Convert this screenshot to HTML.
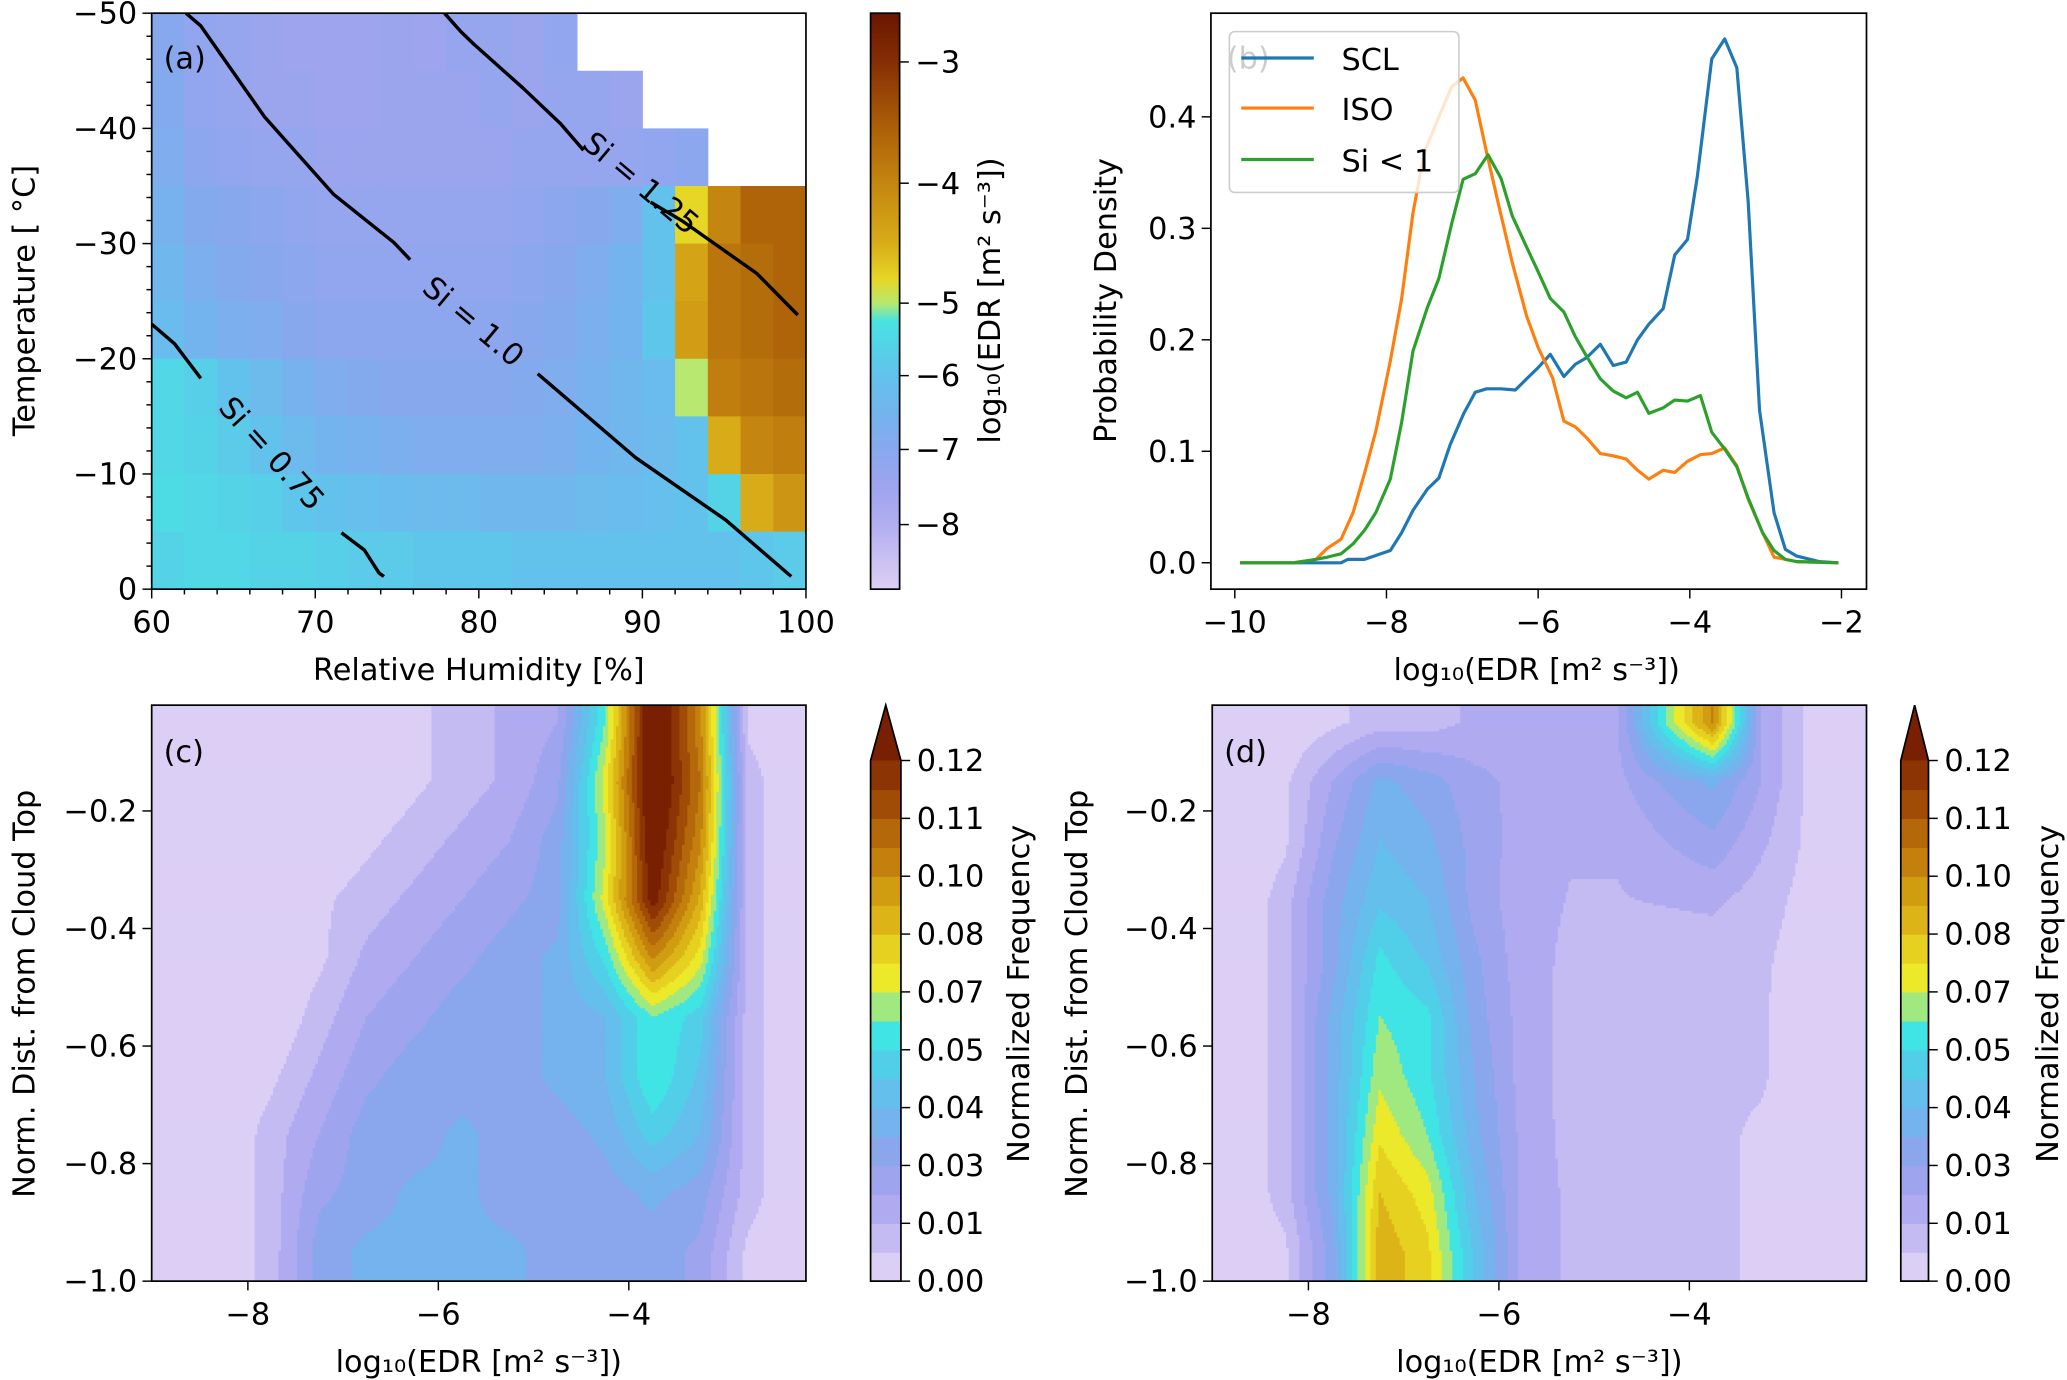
<!DOCTYPE html>
<html><head><meta charset="utf-8"><style>
html,body{margin:0;padding:0;background:#fff;}
svg{display:block;font-family:"DejaVu Sans","Liberation Sans",sans-serif;}
</style></head><body>
<svg id="fig" xmlns="http://www.w3.org/2000/svg" width="2067" height="1380" viewBox="0 0 1567 1047" preserveAspectRatio="none">
<rect x="0" y="0" width="1567" height="1047" fill="#fff"/>
<defs>
<clipPath id="clipA"><rect x="115" y="10" width="496" height="437"/></clipPath>
<clipPath id="clipB"><rect x="918" y="10" width="497" height="437"/></clipPath>
<clipPath id="clipC"><rect x="115" y="535" width="496" height="437"/></clipPath>
<clipPath id="clipD"><rect x="919" y="535" width="496" height="437"/></clipPath>
</defs>
<g id="root"></g>
</svg>
<script>
// ---------------- DATA ----------------
const rhCenters = [61,63,65,67,69,71,73,75,77,79,81,83,85,87,89,91,93,95,97,99];
const tCenters = [-47.5,-42.5,-37.5,-32.5,-27.5,-22.5,-17.5,-12.5,-7.5,-2.5];
const edrA = [
[-7.0,-7.2,-7.3,-7.4,-7.5,-7.5,-7.5,-7.4,-7.5,-7.3,-7.3,-7.4,-7.2,null,null,null,null,null,null,null],
[-6.9,-7.2,-7.3,-7.4,-7.4,-7.5,-7.5,-7.4,-7.4,-7.4,-7.3,-7.4,-7.3,-7.3,-7.4,null,null,null,null,null],
[-6.8,-7.1,-7.2,-7.3,-7.3,-7.4,-7.4,-7.4,-7.4,-7.4,-7.4,-7.3,-7.3,-7.3,-7.3,-7.2,-7.1,null,null,null],
[-6.6,-6.9,-7.0,-7.1,-7.2,-7.3,-7.3,-7.3,-7.3,-7.3,-7.3,-7.2,-7.1,-7.0,-6.8,-6.0,-4.8,-4.0,-3.6,-3.6],
[-6.4,-6.7,-6.9,-7.0,-7.1,-7.2,-7.2,-7.2,-7.2,-7.2,-7.2,-7.1,-7.0,-6.8,-6.5,-6.0,-4.4,-3.8,-3.7,-3.6],
[-6.2,-6.5,-6.7,-6.8,-7.0,-7.1,-7.1,-7.1,-7.1,-7.1,-7.1,-7.0,-6.9,-6.7,-6.5,-5.9,-4.3,-3.8,-3.7,-3.6],
[-5.5,-5.7,-6.0,-6.3,-6.6,-6.8,-6.9,-7.0,-7.0,-7.0,-7.0,-6.9,-6.8,-6.6,-6.4,-6.2,-5.0,-3.9,-3.8,-3.7],
[-5.5,-5.6,-5.8,-6.0,-6.3,-6.5,-6.6,-6.7,-6.8,-6.8,-6.8,-6.8,-6.7,-6.5,-6.4,-6.3,-6.0,-4.5,-4.0,-3.9],
[-5.4,-5.5,-5.6,-5.7,-5.9,-6.0,-6.1,-6.2,-6.3,-6.3,-6.4,-6.4,-6.4,-6.3,-6.2,-6.1,-6.0,-5.6,-4.5,-4.2],
[-5.6,-5.5,-5.5,-5.6,-5.6,-5.7,-5.8,-5.8,-5.9,-5.9,-5.9,-6.0,-6.0,-6.0,-6.0,-6.0,-6.0,-6.0,-5.9,-5.8]
];
const si100aRH = [62.1,63.0,66.9,71.1,74.8,75.8];
const si100aT = [-50,-48.9,-41.0,-34.3,-30.1,-28.6];
const si100bRH = [83.6,89.6,95.1,99.1];
const si100bT = [-18.7,-11.4,-6.0,-1.1];
const si125aRH = [77.9,78.9,79.7,82.7,85.0,86.4];
const si125aT = [-50,-48.4,-47.3,-43.5,-40.4,-38.1];
const si125bRH = [90.5,92.4,94.7,97.0,99.5];
const si125bT = [-33.6,-32.0,-29.7,-27.4,-23.8];
const si075aRH = [60,61.4,63.0];
const si075aT = [-23.0,-21.3,-18.3];
const si075bRH = [71.6,73.0,73.9,74.2];
const si075bT = [-4.9,-3.4,-1.4,-1.1];
const aXTicks = [60,70,80,90,100];
const aYTicks = [-50,-40,-30,-20,-10,0];
const aCbTicks = [-3,-4,-5,-6,-7,-8];

const sclX = [-9.93,-8.78,-8.6,-8.51,-8.29,-7.95,-7.80,-7.65,-7.46,-7.31,-7.16,-6.98,-6.83,-6.68,-6.49,-6.30,-6.15,-6.00,-5.84,-5.66,-5.51,-5.36,-5.18,-5.01,-4.84,-4.69,-4.54,-4.35,-4.20,-4.03,-3.90,-3.71,-3.54,-3.38,-3.23,-3.08,-2.89,-2.74,-2.59,-2.29,-2.04];
const sclY = [0,0,0,0.003,0.003,0.011,0.027,0.047,0.066,0.076,0.106,0.134,0.153,0.156,0.156,0.155,0.165,0.175,0.187,0.167,0.178,0.184,0.196,0.177,0.180,0.200,0.214,0.228,0.276,0.290,0.347,0.452,0.470,0.444,0.324,0.137,0.045,0.012,0.006,0.001,0];
const isoX = [-9.93,-9.23,-8.93,-8.78,-8.6,-8.44,-8.29,-8.14,-7.95,-7.80,-7.65,-7.50,-7.31,-7.14,-6.99,-6.83,-6.68,-6.49,-6.34,-6.15,-6.00,-5.81,-5.66,-5.51,-5.36,-5.18,-5.01,-4.84,-4.69,-4.54,-4.35,-4.20,-4.03,-3.86,-3.71,-3.54,-3.38,-3.23,-3.04,-2.89,-2.74,-2.59,-2.04];
const isoY = [0,0,0.003,0.013,0.021,0.045,0.080,0.118,0.181,0.237,0.314,0.368,0.400,0.427,0.435,0.415,0.368,0.312,0.269,0.221,0.193,0.166,0.127,0.122,0.112,0.098,0.096,0.093,0.083,0.075,0.083,0.081,0.091,0.097,0.098,0.103,0.087,0.057,0.027,0.005,0.003,0.001,0];
const siX = [-9.93,-9.23,-8.93,-8.78,-8.6,-8.44,-8.29,-8.14,-7.95,-7.80,-7.65,-7.46,-7.31,-7.14,-6.99,-6.83,-6.66,-6.49,-6.34,-6.15,-6.00,-5.84,-5.66,-5.51,-5.36,-5.18,-5.01,-4.84,-4.69,-4.54,-4.35,-4.20,-4.03,-3.86,-3.71,-3.54,-3.38,-3.23,-3.04,-2.89,-2.74,-2.59,-2.04];
const siY = [0,0,0.003,0.005,0.008,0.017,0.029,0.045,0.075,0.126,0.190,0.229,0.255,0.304,0.344,0.349,0.366,0.345,0.311,0.283,0.261,0.237,0.225,0.203,0.185,0.165,0.154,0.148,0.153,0.134,0.139,0.146,0.145,0.150,0.117,0.102,0.086,0.058,0.027,0.011,0.003,0.001,0];
const bXTicks = [-10,-8,-6,-4,-2];
const bYTicks = [0.0,0.1,0.2,0.3,0.4];

const cdXCenters = [-8.75,-8.25,-7.75,-7.25,-6.75,-6.25,-5.75,-5.25,-4.75,-4.25,-3.75,-3.25,-2.75,-2.25];
const cdYCenters = [-0.05,-0.15,-0.25,-0.35,-0.45,-0.55,-0.65,-0.75,-0.85,-0.95];
const freqC = [
[0,0,0,0,0,0.005,0.01,0.015,0.02,0.06,0.135,0.095,0.005,0],
[0,0,0,0,0,0.005,0.01,0.015,0.025,0.07,0.135,0.10,0.01,0],
[0,0,0,0,0.005,0.01,0.015,0.02,0.03,0.065,0.13,0.095,0.01,0],
[0,0,0,0.005,0.01,0.015,0.02,0.025,0.03,0.07,0.125,0.085,0.01,0],
[0,0,0,0.005,0.015,0.02,0.025,0.03,0.035,0.055,0.095,0.07,0.01,0],
[0,0,0,0.01,0.02,0.025,0.03,0.03,0.035,0.04,0.06,0.05,0.01,0],
[0,0,0.005,0.015,0.025,0.03,0.03,0.03,0.035,0.04,0.06,0.045,0.01,0],
[0,0,0.01,0.02,0.03,0.03,0.035,0.03,0.03,0.035,0.05,0.04,0.01,0],
[0,0,0.01,0.025,0.03,0.035,0.035,0.03,0.03,0.03,0.035,0.03,0.01,0],
[0,0,0.01,0.03,0.035,0.035,0.035,0.035,0.03,0.03,0.03,0.025,0.005,0]
];
const freqD = [
[0,0,0.005,0.01,0.01,0.015,0.018,0.018,0.02,0.06,0.095,0.02,0.005,0],
[0,0.005,0.02,0.035,0.03,0.022,0.018,0.016,0.018,0.028,0.035,0.02,0.005,0],
[0,0.005,0.025,0.04,0.035,0.024,0.017,0.014,0.014,0.02,0.025,0.015,0.005,0],
[0,0.01,0.03,0.045,0.04,0.024,0.016,0.013,0.013,0.014,0.015,0.01,0.004,0],
[0,0.01,0.03,0.055,0.045,0.028,0.016,0.012,0.009,0.009,0.009,0.008,0.003,0],
[0,0.01,0.035,0.06,0.055,0.03,0.017,0.011,0.009,0.008,0.009,0.008,0,0],
[0,0.01,0.035,0.065,0.055,0.033,0.017,0.011,0.009,0.008,0.009,0.008,0,0],
[0,0.01,0.035,0.072,0.06,0.035,0.018,0.011,0.009,0.008,0.009,0.005,0,0],
[0,0.01,0.035,0.08,0.07,0.04,0.018,0.012,0.009,0.008,0.009,0.005,0,0],
[0,0.005,0.03,0.085,0.075,0.045,0.018,0.012,0.009,0.009,0.009,0.005,0,0]
];
const cdXTicks = [-8,-6,-4];
const cdYTicks = [-0.2,-0.4,-0.6,-0.8,-1.0];
const cbFreqLabels = ['0.00','0.01','0.03','0.04','0.05','0.07','0.08','0.10','0.11','0.12'];

// ---------------- HELPERS ----------------
const NS = 'http://www.w3.org/2000/svg';
const root = document.getElementById('root');
function mk(tag, attrs, parent){
  const e = document.createElementNS(NS, tag);
  for (const k in attrs) e.setAttribute(k, attrs[k]);
  (parent || root).appendChild(e);
  return e;
}
function lin(d0,d1,r0,r1){ return v => r0 + (v-d0)/(d1-d0)*(r1-r0); }
function hex(c){ return [parseInt(c.slice(1,3),16),parseInt(c.slice(3,5),16),parseInt(c.slice(5,7),16)]; }
const FS = 23;

const aStops = [[-2.6,'#6a1600'],[-3,'#862e04'],[-3.5,'#aa5c08'],[-4,'#c48610'],[-4.5,'#d8ac18'],[-4.8,'#e6d626'],[-5,'#b8e870'],[-5.25,'#48e2e2'],[-6,'#62c2ec'],[-6.5,'#74b4ee'],[-7,'#88a8ee'],[-7.5,'#9ea4ee'],[-8,'#b2aef0'],[-8.9,'#ddd0f4']];
function colA(v){
  if (v >= aStops[0][0]) return aStops[0][1];
  for (let i=0;i<aStops.length-1;i++){
    const a=aStops[i], b=aStops[i+1];
    if (v <= a[0] && v >= b[0]){
      const t=(a[0]-v)/(a[0]-b[0]); const ca=hex(a[1]), cb=hex(b[1]);
      return 'rgb('+ca.map((x,j)=>Math.round(x+(cb[j]-x)*t)).join(',')+')';
    }
  }
  return aStops[aStops.length-1][1];
}
const bandCols = ['#dccff5','#c4bbf2','#b0abf0','#9ea4ee','#8aa7ee','#74b3ee','#64bfec','#52cfe8','#40e4e4','#a0e880','#ece82a','#e6d020','#dcb418','#d09c10','#c4800c','#b4680a','#a04c06','#8c3404'];
const extCol = '#7a2002';
function colF(v){ const k=Math.floor(v/(0.12/18)); return k>=18?extCol:bandCols[Math.max(0,k)]; }

function axisFrame(x0,y0,x1,y1,name){
  const r = mk('rect',{x:x0,y:y0,width:x1-x0,height:y1-y0,fill:'none',stroke:'#000','stroke-width':1.3});
  
  
}
function txt(s,x,y,opts,name){
  const t = mk('text',Object.assign({x:x,y:y,'font-size':FS,fill:'#000'},opts||{}));
  t.textContent = s;
  
  
  return t;
}
function fmtNeg(v,dec){ const s = Math.abs(v).toFixed(dec); return (v<0?'\u2212':'')+s; }

// ---------------- PANEL A ----------------
const AX0=115, AX1=611, AY0=10, AY1=447;
const sxA = lin(60,100,AX0,AX1), syA = lin(-50,0,AY0,AY1);
const gA = mk('g',{'clip-path':'url(#clipA)'});


edrA.forEach((row,i)=>row.forEach((v,j)=>{
  if (v===null) return;
  const x0=sxA(rhCenters[j]-1), x1=sxA(rhCenters[j]+1), y0=syA(tCenters[i]-2.5), y1=syA(tCenters[i]+2.5);
  const r = mk('rect',{x:x0,y:y0,width:x1-x0+0.4,height:y1-y0+0.4,fill:colA(v)},gA);
  
  
}));
function siLine(xs,ts,name){
  const p = mk('polyline',{points:xs.map((x,i)=>sxA(x)+','+syA(ts[i])).join(' '),fill:'none',stroke:'#000','stroke-width':2.6,'stroke-linejoin':'round'},gA);
  
  
}
siLine(si100aRH,si100aT,'si-1.0-contour');
siLine(si100bRH,si100bT,'si-1.0-contour');
siLine(si125aRH,si125aT,'si-1.25-contour');
siLine(si125bRH,si125bT,'si-1.25-contour');
siLine(si075aRH,si075aT,'si-0.75-contour');
siLine(si075bRH,si075bT,'si-0.75-contour');
txt('Si = 1.0',358,245,{'text-anchor':'middle','dominant-baseline':'middle',transform:'rotate(40 358 245)'},'si-1.0-label');
txt('Si = 1.25',485,140,{'text-anchor':'middle','dominant-baseline':'middle',transform:'rotate(40 485 140)'},'si-1.25-label');
txt('Si = 0.75',205,345,{'text-anchor':'middle','dominant-baseline':'middle',transform:'rotate(48 205 345)'},'si-0.75-label');
txt('(a)',124,52,{},'panel-a-label');
axisFrame(AX0,AY0,AX1,AY1,'panel-a-frame');
for (let v=60; v<=100; v+=2){
  const maj = aXTicks.includes(v);
  const l = mk('line',{x1:sxA(v),x2:sxA(v),y1:AY1,y2:AY1+(maj?7:4),stroke:'#000','stroke-width':1.1});
  
  
}
aXTicks.forEach(v=>txt(String(v),sxA(v),AY1+33,{'text-anchor':'middle'},'x-tick-label'));
for (let v=-50; v<=0; v+=2){
  const maj = aYTicks.includes(v);
  const l = mk('line',{x1:AX0,x2:AX0-(maj?7:4),y1:syA(v),y2:syA(v),stroke:'#000','stroke-width':1.1});
  
  
}
aYTicks.forEach(v=>txt(fmtNeg(v,0),AX0-11,syA(v)+8,{'text-anchor':'end'},'y-tick-label'));
txt('Relative Humidity [%]',363,516,{'text-anchor':'middle'},'x-axis-title');
txt('Temperature [ \u00B0C]',26,228,{'text-anchor':'middle',transform:'rotate(-90 26 228)'},'y-axis-title');
const CBX0=660, CBX1=682;
const aCbV = [-2.6,-3,-4,-5,-6,-7,-8,-8.9];
const aCbY = [10,47,139,230,285,341,398,447];
function cbYa(v){ for(let i=0;i<aCbV.length-1;i++){ if(v<=aCbV[i]&&v>=aCbV[i+1]) return aCbY[i]+(aCbV[i]-v)/(aCbV[i]-aCbV[i+1])*(aCbY[i+1]-aCbY[i]); } return v>aCbV[0]?aCbY[0]:aCbY[aCbY.length-1]; }
function cbValA(y){ for(let i=0;i<aCbY.length-1;i++){ if(y>=aCbY[i]&&y<=aCbY[i+1]) return aCbV[i]+(y-aCbY[i])/(aCbY[i+1]-aCbY[i])*(aCbV[i+1]-aCbV[i]); } return -8.9; }
const gCbA = mk('g',{});


for (let y=10; y<447; y+=1){
  const r = mk('rect',{x:CBX0,y:y,width:CBX1-CBX0,height:1.3,fill:colA(cbValA(y+0.5))},gCbA);
  
  
}
axisFrame(CBX0,10,CBX1,447,'colorbar-a-frame');
aCbTicks.forEach(v=>{
  const l = mk('line',{x1:CBX1,x2:CBX1+7,y1:cbYa(v),y2:cbYa(v),stroke:'#000','stroke-width':1.1});
  
  
  txt(fmtNeg(v,0),CBX1+12,cbYa(v)+8,{},'colorbar-tick-label');
});
txt('log\u2081\u2080(EDR [m\u00B2 s\u207B\u00B3])',758,228,{'text-anchor':'middle',transform:'rotate(-90 758 228)'},'colorbar-a-title');

// ---------------- PANEL B ----------------
const BX0=918, BX1=1415, BY0=10, BY1=447;
const sxB = lin(-10.315,-1.67,BX0,BX1), syB = lin(-0.0237,0.493,BY1,BY0);
const gB = mk('g',{'clip-path':'url(#clipB)'});


function series(xs,ys,col,name){
  const p = mk('polyline',{points:xs.map((x,i)=>sxB(x).toFixed(1)+','+syB(ys[i]).toFixed(1)).join(' '),fill:'none',stroke:col,'stroke-width':2.4,'stroke-linejoin':'round'},gB);
  
  
}
series(sclX,sclY,'#1f77b4','scl-line');
series(isoX,isoY,'#ff7f0e','iso-line');
series(siX,siY,'#2ca02c','si-below-1-line');
txt('(b)',930,52,{},'panel-b-label');
axisFrame(BX0,BY0,BX1,BY1,'panel-b-frame');
bXTicks.forEach(v=>{
  const l = mk('line',{x1:sxB(v),x2:sxB(v),y1:BY1,y2:BY1+7,stroke:'#000','stroke-width':1.1});
  
  
  txt(fmtNeg(v,0),sxB(v),BY1+33,{'text-anchor':'middle'},'x-tick-label');
});
bYTicks.forEach(v=>{
  const l = mk('line',{x1:BX0,x2:BX0-7,y1:syB(v),y2:syB(v),stroke:'#000','stroke-width':1.1});
  
  
  txt(v.toFixed(1),BX0-11,syB(v)+8,{'text-anchor':'end'},'y-tick-label');
});
txt('log\u2081\u2080(EDR [m\u00B2 s\u207B\u00B3])',1165,516,{'text-anchor':'middle'},'x-axis-title');
txt('Probability Density',846,228,{'text-anchor':'middle',transform:'rotate(-90 846 228)'},'y-axis-title');
const lg = mk('g',{});


const lbox = mk('rect',{x:932,y:24,width:174,height:122,rx:4,fill:'#fff','fill-opacity':0.8,stroke:'#ccc','stroke-width':1.2},lg);


const legNames = ['SCL','ISO','Si < 1'];
const legCols = ['#1f77b4','#ff7f0e','#2ca02c'];
const legYs = [44,82,121];
legNames.forEach((n,i)=>{
  const l = mk('line',{x1:941,x2:996,y1:legYs[i],y2:legYs[i],stroke:legCols[i],'stroke-width':2.4},lg);
  
  
  txt(n,1017,legYs[i]+9,{},'legend-entry-label');
});

// ---------------- PANELS C, D ----------------
const CY0=535, CY1=972;
const syCD = lin(-0.02,-1.0,CY0,CY1);
function interp(mat,x,y){
  let fj=(x-cdXCenters[0])/0.5, fi=(cdYCenters[0]-y)/0.1;
  fj=Math.max(0,Math.min(cdXCenters.length-1,fj)); fi=Math.max(0,Math.min(cdYCenters.length-1,fi));
  const j0=Math.min(Math.floor(fj),cdXCenters.length-2), i0=Math.min(Math.floor(fi),cdYCenters.length-2);
  const tj=fj-j0, ti=fi-i0;
  const a=mat[i0][j0], b=mat[i0][j0+1], c=mat[i0+1][j0], d=mat[i0+1][j0+1];
  return (a*(1-tj)+b*tj)*(1-ti)+(c*(1-tj)+d*tj)*ti;
}
function contourPanel(mat,X0,X1,clip,name){
  const sx = lin(-9.01,-2.14,X0,X1);
  const ix = lin(X0,X1,-9.01,-2.14), iy = lin(CY0,CY1,-0.02,-1.0);
  const g = mk('g',{'clip-path':'url('+clip+')'});
  
  
  const st=2;
  for (let py=CY0; py<CY1; py+=st){
    let runStart=X0, runCol=null;
    for (let px=X0; px<=X1; px+=st){
      const col = px<X1 ? colF(interp(mat,ix(px+st/2),iy(py+st/2))) : null;
      if (col!==runCol){
        if (runCol!==null){
          const r = mk('rect',{x:runStart,y:py,width:px-runStart+0.6,height:st+0.6,fill:runCol},g);
          
          
        }
        runStart=px; runCol=col;
      }
    }
  }
  return sx;
}
function cdAxes(sx,X0,X1,tag,labelX){
  axisFrame(X0,CY0,X1,CY1,'panel-'+tag+'-frame');
  cdXTicks.forEach(v=>{
    const l = mk('line',{x1:sx(v),x2:sx(v),y1:CY1,y2:CY1+7,stroke:'#000','stroke-width':1.1});
    
    
    txt(fmtNeg(v,0),sx(v),CY1+33,{'text-anchor':'middle'},'x-tick-label');
  });
  cdYTicks.forEach(v=>{
    const l = mk('line',{x1:X0,x2:X0-7,y1:syCD(v),y2:syCD(v),stroke:'#000','stroke-width':1.1});
    
    
    txt(fmtNeg(v,1),X0-11,syCD(v)+8,{'text-anchor':'end'},'y-tick-label');
  });
  txt('log\u2081\u2080(EDR [m\u00B2 s\u207B\u00B3])',(X0+X1)/2,1041,{'text-anchor':'middle'},'x-axis-title');
  txt('Norm. Dist. from Cloud Top',labelX,754,{'text-anchor':'middle',transform:'rotate(-90 '+labelX+' 754)'},'y-axis-title');
  txt('('+tag+')',X0+9,578,{},'panel-'+tag+'-label');
}
function freqColorbar(x0,x1,titleX,tag){
  const top=577, bot=CY1;
  const g = mk('g',{});
  
  
  bandCols.forEach((c,k)=>{
    const y1 = bot - k/18*(bot-top), y0 = bot-(k+1)/18*(bot-top);
    const r = mk('rect',{x:x0,y:y0,width:x1-x0,height:y1-y0+0.5,fill:c},g);
    
    
  });
  const tri = mk('polygon',{points:x0+','+top+' '+x1+','+top+' '+((x0+x1)/2)+',535',fill:extCol},g);
  
  
  const fr = mk('polygon',{points:x0+','+bot+' '+x0+','+top+' '+((x0+x1)/2)+',535 '+x1+','+top+' '+x1+','+bot,fill:'none',stroke:'#000','stroke-width':1.3},g);
  
  
  cbFreqLabels.forEach((s,i)=>{
    const y = bot - (2*i)/18*(bot-top);
    const l = mk('line',{x1:x1,x2:x1+7,y1:y,y2:y,stroke:'#000','stroke-width':1.1},g);
    
    
    txt(s,x1+12,y+8,{},'colorbar-tick-label');
  });
  txt('Normalized Frequency',titleX,754,{'text-anchor':'middle',transform:'rotate(-90 '+titleX+' 754)'},'colorbar-'+tag+'-title');
}
const sxC = contourPanel(freqC,115,611,'#clipC','panel-c-contours');
cdAxes(sxC,115,611,'c',26);
freqColorbar(660,683,780,'c');
const sxD = contourPanel(freqD,919,1415,'#clipD','panel-d-contours');
cdAxes(sxD,919,1415,'d',824);
freqColorbar(1441,1462,1560,'d');
</script>
</body></html>
